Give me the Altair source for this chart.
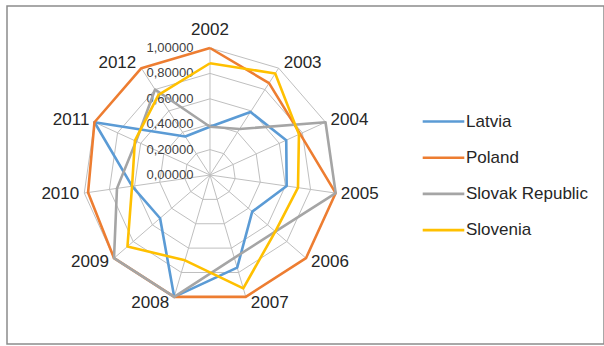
import altair as alt
import pandas as pd
import numpy as np

years = ["2002", "2003", "2004", "2005", "2006", "2007", "2008", "2009", "2010", "2011", "2012"]
series = ["Latvia", "Poland", "Slovak Republic", "Slovenia"]
latvia = [0.38, 0.59, 0.66, 0.61, 0.44, 0.76, 1.00, 0.52, 0.62, 1.00, 0.36]
poland = [1.00, 0.86, 0.78, 1.00, 1.00, 1.00, 1.00, 1.00, 0.97, 1.00, 1.00]
slovak = [0.38, 0.43, 1.00, 1.00, 0.68, 0.68, 1.00, 1.00, 0.74, 0.64, 0.80]
slovenia = [0.88, 0.95, 0.77, 0.70, 0.68, 0.93, 0.70, 0.86, 0.62, 0.65, 0.75]
levels = [0.0, 0.2, 0.4, 0.6, 0.8, 1.0]
level_labels = ["0,00000", "0,20000", "0,40000", "0,60000", "0,80000", "1,00000"]
colors = ["#5B9BD5", "#ED7D31", "#A5A5A5", "#FFC000"]

n = len(years)
values = {"Latvia": latvia, "Poland": poland, "Slovak Republic": slovak, "Slovenia": slovenia}

# long table for the series (closed polygons)
rows = []
for s in series:
    vals = values[s]
    for i in range(n + 1):
        rows.append({"series": s, "idx": i, "year": years[i % n], "value": vals[i % n]})
df = pd.DataFrame(rows)

# ring grid
ring_rows = []
for lv in levels[1:]:
    for i in range(n + 1):
        ring_rows.append({"level": lv, "idx": i})
rings = pd.DataFrame(ring_rows)

spokes = pd.DataFrame({"idx": list(range(n)), "year": years})
ticks = pd.DataFrame({"level": levels, "label": level_labels})

ang = f"datum.idx * 2 * PI / {n}"
xs = alt.Scale(domain=[-1.5984, 3.1024], nice=False, zero=False)
ys = alt.Scale(domain=[-1.3307, 1.3307], nice=False, zero=False)

ring_layer = alt.Chart(rings).transform_calculate(
    x=f"datum.level * sin({ang})", y=f"datum.level * cos({ang})"
).mark_line(color="#BFBFBF", strokeWidth=1).encode(
    x=alt.X("x:Q", scale=xs, axis=None),
    y=alt.Y("y:Q", scale=ys, axis=None),
    detail="level:N",
    order="idx:Q",
)

spoke_layer = alt.Chart(spokes).transform_calculate(
    x0="0", y0="0", x1=f"sin({ang})", y1=f"cos({ang})"
).mark_rule(color="#BFBFBF", strokeWidth=1).encode(
    x=alt.X("x0:Q", scale=xs, axis=None),
    y=alt.Y("y0:Q", scale=ys, axis=None),
    x2="x1:Q",
    y2="y1:Q",
)

tick_layer = alt.Chart(ticks).transform_calculate(
    x="-0.13", y="datum.level"
).mark_text(align="right", baseline="middle", fontSize=13, font="Liberation Sans", color="#404040").encode(
    x=alt.X("x:Q", scale=xs, axis=None),
    y=alt.Y("y:Q", scale=ys, axis=None),
    text="label:N",
)

def year_labels(filter_expr, align, dx):
    return alt.Chart(spokes).transform_calculate(
        s=f"sin({ang})", c=f"cos({ang})"
    ).transform_filter(filter_expr).transform_calculate(
        x=f"datum.s + ({dx})",
        y="datum.idx == 0 ? 1.14 : datum.c * 1.047",
    ).mark_text(align=align, baseline="middle", fontSize=17, font="Liberation Sans", color="#262626").encode(
        x=alt.X("x:Q", scale=xs, axis=None),
        y=alt.Y("y:Q", scale=ys, axis=None),
        text="year:N",
    )

lab_c = year_labels("abs(datum.s) < 0.1", "center", 0)
lab_r = year_labels("datum.s >= 0.1", "left", 0.04)
lab_l = year_labels("datum.s <= -0.1", "right", -0.04)

series_layer = alt.Chart(df).transform_calculate(
    x=f"datum.value * sin({ang})", y=f"datum.value * cos({ang})"
).mark_line(strokeWidth=2.6, strokeJoin="round").encode(
    x=alt.X("x:Q", scale=xs, axis=None),
    y=alt.Y("y:Q", scale=ys, axis=None),
    color=alt.Color(
        "series:N",
        scale=alt.Scale(domain=series, range=colors),
        legend=alt.Legend(
            title=None,
            orient="none",
            legendX=419,
            legendY=98,
            symbolType="M-1.3,0H1.3",
            symbolSize=1024,
            symbolStrokeWidth=2.6,
            labelFontSize=17,
            labelFont="Liberation Sans",
            labelColor="#262626",
            labelOffset=5,
            rowPadding=10.2,
            padding=0,
        ),
    ),
    detail="series:N",
    order="idx:Q",
)

chart = alt.layer(
    ring_layer, spoke_layer, tick_layer, series_layer, lab_c, lab_r, lab_l
).properties(
    width=597,
    height=338,
    autosize=alt.AutoSizeParams(type="none"),
    padding={"left": 7, "top": 6, "right": 0, "bottom": 2},
    background="white",
).configure_view(stroke="#8C8C8C", strokeWidth=1.5)

chart.save("out.html", embed_options={"renderer": "svg", "actions": False})
